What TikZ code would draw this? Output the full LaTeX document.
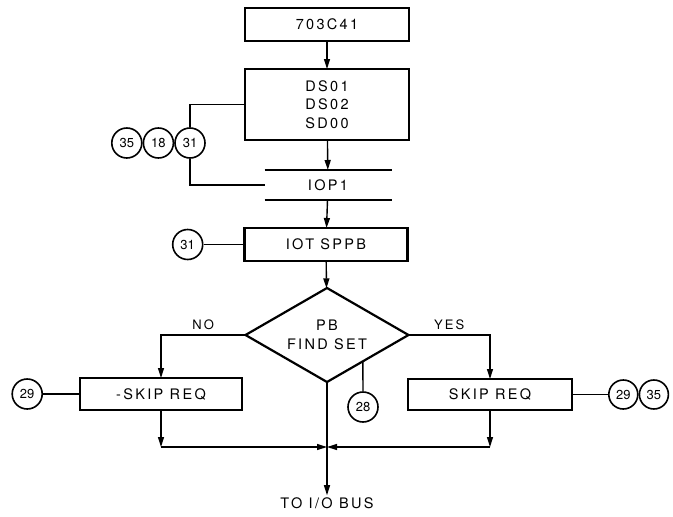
\documentclass[tikz,border=0pt]{standalone}
\usepackage{fontspec}
\setmainfont{TeX Gyre Heros}
\newfontfamily\lettering{TeX Gyre Heros}[LetterSpace=16]
\usetikzlibrary{positioning,arrows.meta,calc,shapes.geometric}

\newcommand\boxfont{\lettering\fontsize{14.5}{18.5}\selectfont}
\newcommand\labfont{\lettering\fontsize{13}{15}\selectfont}

\tikzset{
  blockbox/.style={draw,line width=2.2pt,minimum height=33pt,inner sep=2pt,outer sep=0pt,font=\boxfont},
  refnum/.style={draw,circle,line width=1.6pt,minimum size=30pt,inner sep=0pt,font=\fontsize{13}{13}\selectfont},
  flow/.style={line width=1.4pt},
  flowarrow/.style={flow,-{Triangle[length=10pt,width=6pt]}},
}

\begin{document}
\begin{tikzpicture}[x=1pt,y=-1pt]
  \useasboundingbox (0,0) rectangle (673,517);

  % main column
  \node[blockbox,minimum width=164pt] (sel) at (327,24.5) {703C41};
  \node[blockbox,minimum width=164pt,minimum height=71pt,align=center] (dsop) at (327,104.5) {DS01\\DS02\\SD00};
  \node[minimum width=127pt,minimum height=30pt,inner sep=0pt,outer sep=0pt,font=\boxfont] (iop) at (328,185) {IOP1};
  \draw[line width=1.8pt] (iop.north west) -- (iop.north east) (iop.south west) -- (iop.south east);
  \node[blockbox,minimum width=163pt] (iot) at (326,244.5) {IOT SPPB};
  \node[diamond,draw,line width=2.2pt,aspect=1.7,minimum width=163pt,minimum height=94pt,inner sep=0pt,outer sep=0pt,align=center,font=\boxfont] (pb) at (327,335) {PB\\FIND SET};

  % branches
  \node[blockbox,minimum width=162pt,minimum height=32pt] (nskip) at (161,394) {-SKIP REQ};
  \node[blockbox,minimum width=164pt,minimum height=31pt] (pskip) at (490,394.5) {SKIP REQ};

  % reference circles
  \node[refnum] (ra31) at (190,143) {31};
  \node[refnum,left=0pt of ra31] (ra18) {18};
  \node[refnum,left=0pt of ra18] (ra35) {35};
  \node[refnum,left=41pt of iot] (rb31) {31};
  \node[refnum,left=37pt of nskip] (rc29) {29};
  \node[refnum] (rd28) at (363,407) {28};
  \node[refnum,minimum size=29pt,right=36pt of pskip] (re29) {29};
  \node[refnum,minimum size=29pt,right=0pt of re29] (re35) {35};

  \draw[flowarrow] (sel) -- (dsop);
  \draw[flowarrow] (dsop) -- (iop);
  \draw[flowarrow] (iop) -- (iot);
  \draw[flowarrow] (iot) -- (pb);
  \draw[flow] (dsop.west) -| (ra31.north);
  \draw[flow] (ra31.south) |- (iop.west);
  \draw[flow] (rb31) -- (iot);

  \draw[flowarrow] (pb.west) -| node[pos=0.25,above=1pt,font=\labfont] {NO} (nskip.north);
  \draw[flowarrow] (pb.east) -| node[pos=0.25,above=1pt,font=\labfont] {YES} (pskip.north);
  \draw[flow] (rc29) -- (nskip);
  \draw[flow] (pskip) -- (re29);
  \draw[flow] (rd28.north) -- ($(pb.south)!0.44!(pb.east)$);

  % merge to bus
  \coordinate (joinpt) at (327,447);
  \coordinate (nskipc) at (nskip.south |- joinpt);
  \coordinate (pskipc) at (pskip.south |- joinpt);
  \draw[flowarrow] (nskip.south) -- (nskipc);
  \draw[flowarrow] (nskipc) -- (joinpt);
  \draw[flowarrow] (pskip.south) -- (pskipc);
  \draw[flowarrow] (pskipc) -- (joinpt);
  \node[font=\boxfont,inner sep=2pt] (bus) at (327,503) {TO I/O BUS};
  \draw[flowarrow] (pb.south) -- (bus.north);
\end{tikzpicture}
\end{document}
